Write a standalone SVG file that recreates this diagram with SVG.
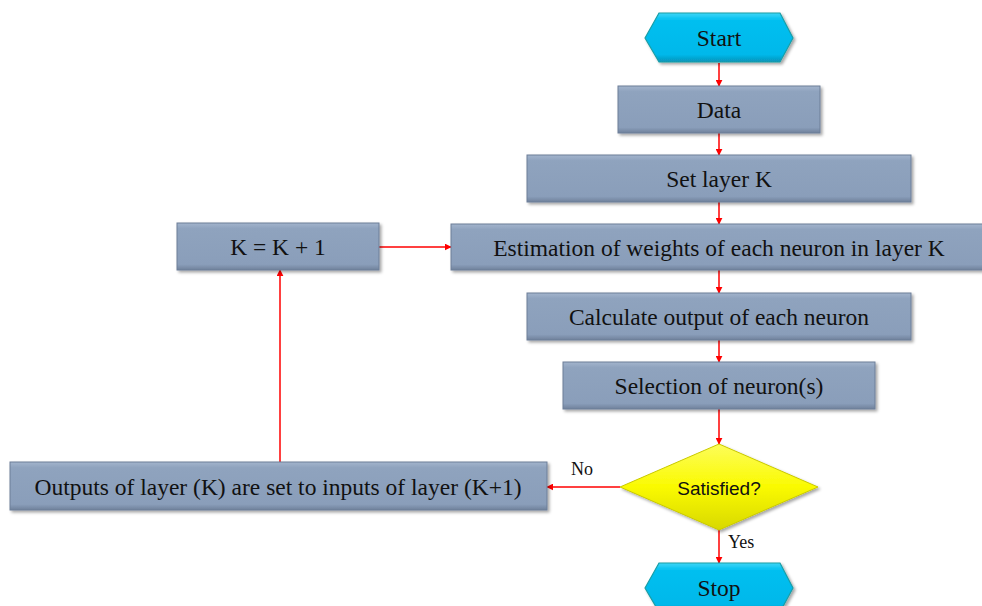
<svg xmlns="http://www.w3.org/2000/svg" width="982" height="606" viewBox="0 0 982 606">
<defs>
<linearGradient id="gBox" x1="0" y1="0" x2="0" y2="1">
<stop offset="0" stop-color="#a3b4cc"/>
<stop offset="0.12" stop-color="#8fa3be"/>
<stop offset="0.88" stop-color="#8a9eba"/>
<stop offset="1" stop-color="#6f819b"/>
</linearGradient>
<linearGradient id="gCyan" x1="0" y1="0" x2="0" y2="1">
<stop offset="0" stop-color="#3fd6f7"/>
<stop offset="0.15" stop-color="#00bff0"/>
<stop offset="0.85" stop-color="#00b8ea"/>
<stop offset="1" stop-color="#0a93b8"/>
</linearGradient>
<linearGradient id="gYel" x1="0" y1="0" x2="0" y2="1">
<stop offset="0" stop-color="#fdfd5a"/>
<stop offset="0.5" stop-color="#fafa00"/>
<stop offset="1" stop-color="#d8d800"/>
</linearGradient>
<filter id="sh" x="-5%" y="-10%" width="115%" height="140%">
<feDropShadow dx="2" dy="2" stdDeviation="1.5" flood-color="#000" flood-opacity="0.35"/>
</filter>
<marker id="ar" viewBox="0 0 10 10" refX="9" refY="5" markerWidth="7" markerHeight="7" markerUnits="userSpaceOnUse" orient="auto">
<path d="M0,0 L10,5 L0,10 z" fill="#ff0000"/>
</marker>
<style>
.box{fill:url(#gBox);stroke:#6c7e98;stroke-width:1;filter:url(#sh)}
.cy{fill:url(#gCyan);stroke:#1a9ea6;stroke-width:1.2;filter:url(#sh)}
.dm{fill:url(#gYel);stroke:#c9c900;stroke-width:1;filter:url(#sh)}
.t{font-family:"Liberation Serif","Times New Roman",serif;font-size:23.5px;fill:#111;text-anchor:middle;dominant-baseline:central}
.s{font-family:"Liberation Sans",Arial,sans-serif;font-size:19px;fill:#111;text-anchor:middle;dominant-baseline:central}
.lb{font-family:"Liberation Serif","Times New Roman",serif;font-size:18px;fill:#111}
.c{stroke:#ff0000;stroke-width:1.5;fill:none;marker-end:url(#ar)}
</style>
</defs>
<rect width="982" height="606" fill="#ffffff"/>
<g id="connectors">
<line class="c" x1="719" y1="63" x2="719" y2="86"/>
<line class="c" x1="719" y1="133" x2="719" y2="155"/>
<line class="c" x1="719" y1="202" x2="719" y2="224"/>
<line class="c" x1="719" y1="270" x2="719" y2="293"/>
<line class="c" x1="719" y1="340" x2="719" y2="362"/>
<line class="c" x1="719" y1="409" x2="719" y2="444"/>
<line class="c" x1="719" y1="530" x2="719" y2="563"/>
<line class="c" x1="620" y1="487" x2="547" y2="487"/>
<line class="c" x1="280" y1="462" x2="280" y2="270"/>
<line class="c" x1="379" y1="247" x2="451" y2="247"/>
</g>
<g id="start">
<polygon class="cy" points="645,38 659,13 780,13 793,38 780,62 659,62"/>
<text class="t" x="719" y="38">Start</text>
</g>
<g id="data">
<rect class="box" x="618" y="86" width="202" height="47"/>
<text class="t" x="719" y="110">Data</text>
</g>
<g id="setlayer">
<rect class="box" x="527" y="155" width="384" height="47"/>
<text class="t" x="719" y="179">Set layer K</text>
</g>
<g id="estimation">
<rect class="box" x="451" y="224" width="536" height="46"/>
<text class="t" x="719" y="248">Estimation of weights of each neuron in layer K</text>
</g>
<g id="kplus">
<rect class="box" x="177" y="223" width="202" height="47"/>
<text class="t" x="278" y="247">K = K + 1</text>
</g>
<g id="calculate">
<rect class="box" x="527" y="293" width="384" height="47"/>
<text class="t" x="719" y="317">Calculate output of each neuron</text>
</g>
<g id="selection">
<rect class="box" x="563" y="362" width="312" height="47"/>
<text class="t" x="719" y="386">Selection of neuron(s)</text>
</g>
<g id="satisfied">
<polygon class="dm" points="719,444 818,487 719,530 620,487"/>
<text class="s" x="719" y="488">Satisfied?</text>
</g>
<g id="outputs">
<rect class="box" x="10" y="462" width="537" height="48"/>
<text class="t" x="278" y="487">Outputs of layer (K) are set to inputs of layer (K+1)</text>
</g>
<g id="stop">
<polygon class="cy" points="645,588 659,563 780,563 793,588 780,612 659,612"/>
<text class="t" x="719" y="588">Stop</text>
</g>
<g id="labels">
<text class="lb" x="571" y="475">No</text>
<text class="lb" x="728" y="548">Yes</text>
</g>
</svg>
